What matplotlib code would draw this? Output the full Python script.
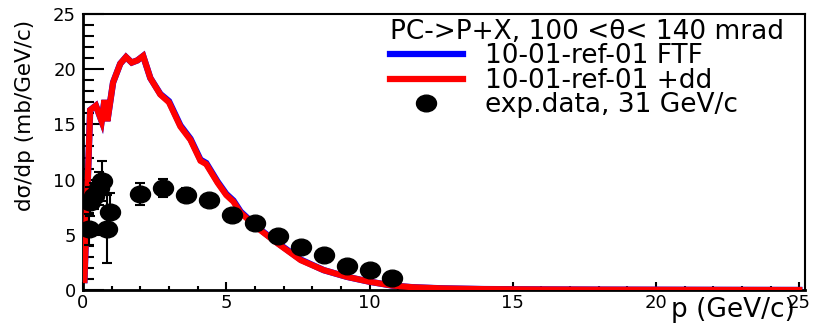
import numpy as np
import matplotlib
matplotlib.use("Agg")
import matplotlib.pyplot as plt
from matplotlib.path import Path
from matplotlib.markers import MarkerStyle
from matplotlib.ticker import MultipleLocator
from matplotlib.lines import Line2D

plt.rcParams['font.family'] = ['DejaVu Sans']

# ---------------- data ----------------
p_model = [0.05, 0.25, 0.45, 0.65, 0.75, 0.85, 1.05, 1.3, 1.5, 1.7, 1.9, 2.1, 2.35,
           2.7, 3.0, 3.4, 3.75, 4.1, 4.3, 4.7, 5.0, 5.25, 5.5, 6.1, 6.8, 7.6, 8.4,
           9.2, 10.0, 10.8, 11.5, 12.5, 14.0, 16.0, 18.0, 20.0, 22.0, 25.0]
ftf = [0.9, 16.3, 16.7, 15.3, 17.2, 15.3, 18.8, 20.5, 21.1, 20.6, 20.8, 21.2, 19.2,
       17.75, 17.1, 14.9, 13.7, 11.8, 11.5, 9.8, 8.7, 8.1, 7.1, 5.65, 4.25, 2.75, 1.8,
       1.2, 0.75, 0.4, 0.25, 0.15, 0.08, 0.05, 0.03, 0.02, 0.01, 0.0]
ftf_dd = [0.9, 16.3, 16.7, 15.3, 17.2, 15.3, 18.8, 20.5, 21.1, 20.6, 20.8, 21.2, 19.2,
          17.7, 17.0, 14.8, 13.6, 11.7, 11.4, 9.7, 8.6, 8.0, 7.0, 5.6, 4.2, 2.7, 1.8,
          1.2, 0.75, 0.4, 0.25, 0.15, 0.08, 0.05, 0.03, 0.02, 0.01, 0.0]

p_exp = [0.2, 0.25, 0.4, 0.55, 0.65, 0.85, 0.95, 2.0, 2.8, 3.6, 4.4, 5.2, 6.0,
         6.8, 7.6, 8.4, 9.2, 10.0, 10.8]
y_exp = [5.5, 8.0, 8.5, 9.2, 9.9, 5.55, 7.1, 8.7, 9.25, 8.65, 8.15, 6.8, 6.1,
         4.9, 3.9, 3.2, 2.2, 1.85, 1.05]
e_exp = [1.4, 1.3, 1.2, 1.5, 1.8, 3.1, 1.7, 1.0, 0.8, 0.6, 0.5, 0.4, 0.35,
         0.3, 0.25, 0.2, 0.15, 0.12, 0.1]

xticks = [0, 5, 10, 15, 20, 25]
yticks = [0, 5, 10, 15, 20, 25]

legend_title = "PC->P+X, 100 <\u03b8< 140 mrad"
label_ftf = "10-01-ref-01 FTF"
label_dd = "10-01-ref-01 +dd"
label_exp = "exp.data, 31 GeV/c"

# ---------------- figure ----------------
W, H = 814, 324
fig = plt.figure(figsize=(W / 100, H / 100), dpi=100)
L, R, T, B = 83, 805, 14, 290
ax = fig.add_axes([L / W, 1 - B / H, (R - L) / W, (B - T) / H])

# ellipse marker (wider than tall)
circ = Path.unit_circle()
ell = Path(circ.vertices * np.array([1.2, 1.0]), circ.codes)
mk = MarkerStyle(ell)

ax.plot(p_model, ftf, color='#0000ff', lw=4.6, solid_joinstyle='miter', zorder=2,
        label=label_ftf)
ax.plot(p_model, ftf_dd, color='#ff0000', lw=4.4, solid_joinstyle='miter', zorder=3,
        label=label_dd)
ax.errorbar(p_exp, y_exp, yerr=e_exp, fmt='none', ecolor='black', elinewidth=1.5,
            capsize=3.5, capthick=1.5, zorder=4)
ax.plot(p_exp, y_exp, linestyle='none', marker=mk, markersize=14.4,
        color='black', zorder=5, label=label_exp)

ax.set_xlim(0, 25.2)
ax.set_ylim(0, 25)
ax.set_xticks(xticks)
ax.set_yticks(yticks)
ax.xaxis.set_minor_locator(MultipleLocator(1))
ax.yaxis.set_minor_locator(MultipleLocator(1))
ax.tick_params(axis='both', which='both', direction='in', top=False, right=False,
               width=1.5, colors='black')
ax.tick_params(axis='y', which='major', length=15, pad=5, labelsize=13)
ax.tick_params(axis='y', which='minor', length=8)
ax.tick_params(axis='x', which='major', length=6, pad=3, labelsize=13)
ax.tick_params(axis='x', which='minor', length=3)
for s in ['left', 'bottom']:
    ax.spines[s].set_linewidth(2.0)
for s in ['top', 'right']:
    ax.spines[s].set_linewidth(1.5)

ax.set_xlabel("p (GeV/c)", fontsize=19, loc='right')
ax.xaxis.label.set_verticalalignment('baseline')
ax.xaxis.set_label_coords((795 - L) / (R - L), -(317 - B) / (B - T))

ax.set_ylabel("d\u03c3/dp (mb/GeV/c)", fontsize=15.5, loc='top')
ax.yaxis.label.set_verticalalignment('center')
ax.yaxis.set_label_coords(-(L - 25) / (R - L), (B - 20) / (B - T))

handles = [Line2D([], [], color='#0000ff', lw=4.5),
           Line2D([], [], color='#ff0000', lw=4.5),
           Line2D([], [], linestyle='none', marker=mk, markersize=14.4, color='black')]
leg = ax.legend(handles, [label_ftf, label_dd, label_exp], title=legend_title,
                loc='upper left', bbox_to_anchor=(390 / W, 1 - 19 / H),
                bbox_transform=fig.transFigure, frameon=False, fontsize=19,
                title_fontsize=19, alignment='left', borderpad=0, borderaxespad=0,
                handlelength=2.75, handletextpad=0.85, labelspacing=-0.06)

fig.savefig("out.png", dpi=100)
